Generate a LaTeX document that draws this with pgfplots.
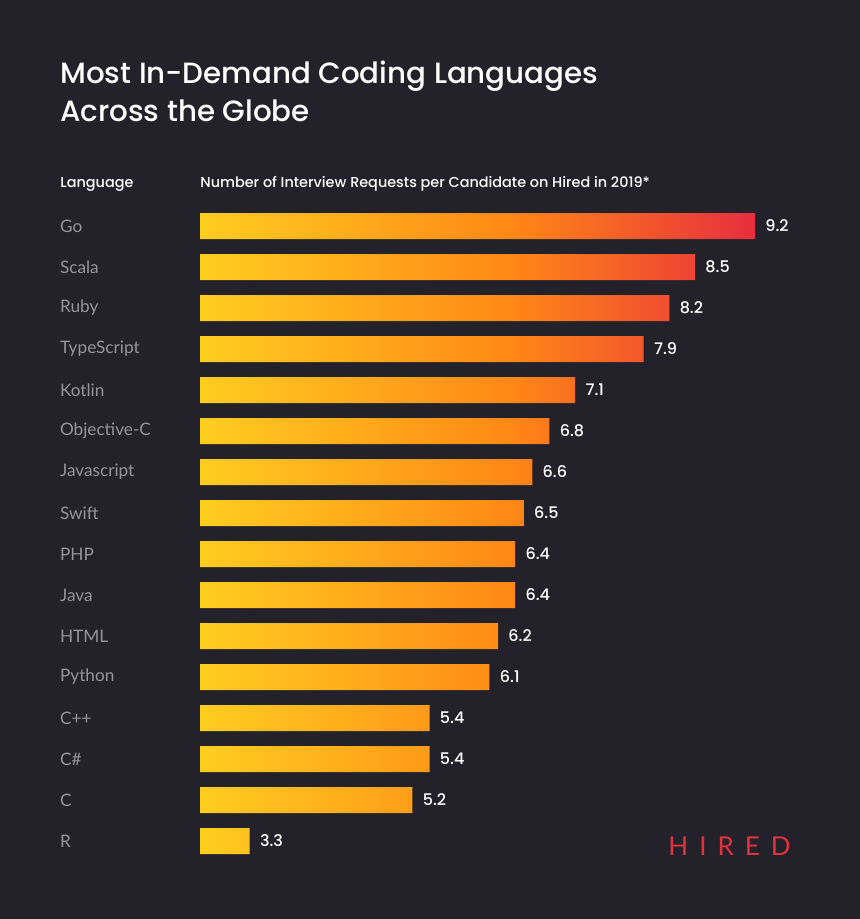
\documentclass[border=0pt]{standalone}
\usepackage{pgfplots}
\pgfplotsset{compat=1.18}
\usepackage{pgfplotstable}
\usepackage{fontspec}
\setmainfont{Poppins}
\newfontfamily\popmed{Poppins Medium}
\newfontfamily\labfont{Lato}
\definecolor{bgc}{RGB}{35,34,42}
\definecolor{cY}{RGB}{255,205,32}
\definecolor{cO}{RGB}{255,136,22}
\definecolor{cR}{RGB}{232,46,62}
\definecolor{labgrey}{RGB}{150,149,158}
\definecolor{hired}{RGB}{226,50,62}
\pgfdeclarehorizontalshading{barsh}{100bp}{color(0bp)=(cY); color(25bp)=(cY); color(53bp)=(cO); color(75bp)=(cR); color(100bp)=(cR)}
\pgfplotstableread{
i v
0 9.2
1 8.5
2 8.2
3 7.9
4 7.1
5 6.8
6 6.6
7 6.5
8 6.4
9 6.4
10 6.2
11 6.1
12 5.4
13 5.4
14 5.2
15 3.3
}\data
\begin{document}
\begin{tikzpicture}
\fill[bgc] (0,0) rectangle (430pt,-459.5pt);
\node[anchor=base west, inner sep=0pt, text=white, font=\popmed\fontsize{14.65}{18}\selectfont] at (30pt,-42pt) {Most In-Demand Coding Languages};
\node[anchor=base west, inner sep=0pt, text=white, font=\popmed\fontsize{14.65}{18}\selectfont] at (30pt,-61pt) {Across the Globe};
\node[anchor=base west, inner sep=0pt, text=white, font=\popmed\fontsize{7.2}{8}\selectfont] at (30pt,-94pt) {Language};
\node[anchor=base west, inner sep=0pt, text=white, font=\popmed\fontsize{7.2}{8}\selectfont] at (100pt,-94pt) {Number of Interview Requests per Candidate on Hired in 2019*};
\begin{axis}[
  at={(100pt,-113pt)}, anchor=north west,
  scale only axis, width=277.5pt, height=307.5pt,
  xmin=2.72, xmax=9.2, ymin=0, ymax=15, y dir=reverse,
  enlargelimits=false, clip=false,
  axis line style={draw=none}, tick style={draw=none},
  xtick=\empty,
  ytick={0,...,15},
  yticklabels={Go,Scala,Ruby,TypeScript,Kotlin,Objective-C,Javascript,Swift,PHP,Java,HTML,Python,C++,C\#,C,R},
  yticklabel style={anchor=east, text width=65.5pt, align=left, inner sep=0pt, text=labgrey, font=\labfont\fontsize{8.6}{10}\selectfont},
  xbar, bar width=13pt,
  nodes near coords={\pgfmathprintnumber[assume math mode=true,fixed,fixed zerofill,precision=1]{\pgfplotspointmeta}},
  point meta=x,
  every node near coord/.append style={anchor=west, inner sep=0pt, xshift=5pt, text=white, font=\popmed\fontsize{8}{9}\selectfont},
]
\addplot[draw=none, shade, shading=barsh]
  table[x=v,y=i]{\data};
\end{axis}
\node[anchor=base west, inner sep=0pt, text=hired, font=\labfont\fontsize{13}{15}\selectfont] at (334pt,-427.5pt) {H\hspace{5.5pt}I\hspace{5.5pt}R\hspace{5.5pt}E\hspace{5.5pt}D};
\useasboundingbox (0,0) rectangle (430pt,-459.5pt);
\end{tikzpicture}
\end{document}
